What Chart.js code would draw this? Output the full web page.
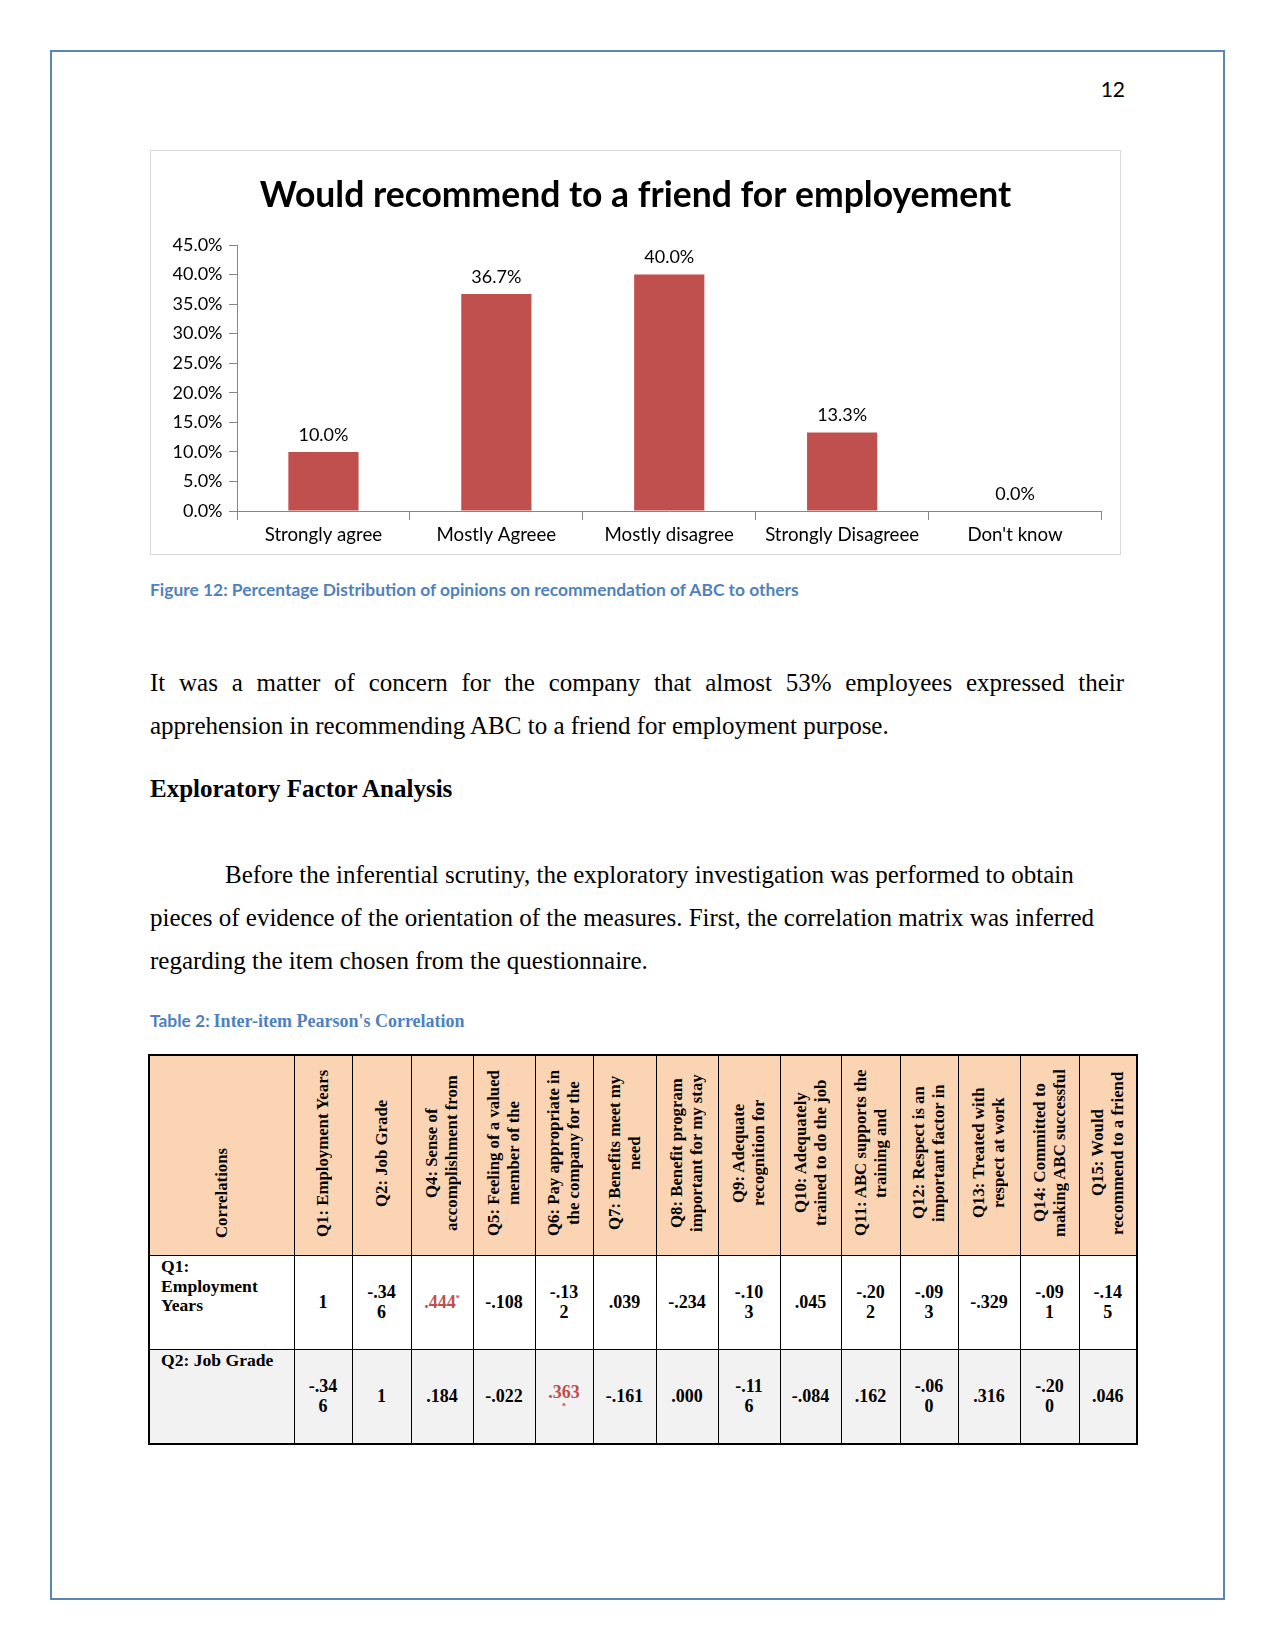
<!DOCTYPE html>
<html>
<head>
<meta charset="utf-8">
<script src="https://cdn.jsdelivr.net/npm/chart.js@4.4.0/dist/chart.umd.min.js"></script>
<style>
  html, body { margin: 0; padding: 0; background: #fff; }
  #page { position: relative; width: 1275px; height: 1650px; overflow: hidden; color: #000; }
  #frame { position: absolute; left: 50px; top: 50px; width: 1171px; height: 1546px; border: 2px solid #5a85b6; }
  #pageNum { position: absolute; right: 150px; top: 77px; font: 21px Lato, sans-serif; line-height: 24px; }
  #chartBox { position: absolute; left: 150px; top: 150px; width: 969px; height: 403px; border: 1px solid #d9d9d9; }
  #chartWrap { position: relative; width: 969px; height: 403px; }
  .caption { position: absolute; left: 150px; font-weight: bold; color: #4f81bd; line-height: 20px; white-space: nowrap; }
  .cal { font-family: Lato, sans-serif; font-size: 17.4px; }
  .cam { font-family: "Liberation Serif", serif; font-size: 18px; }
  .line { position: absolute; left: 150px; width: 974px; font: 25px "Liberation Serif", serif; line-height: 43px; white-space: nowrap; }
  .justify { text-align: justify; text-align-last: justify; white-space: normal; }
  .bold { font-weight: bold; }
  #corrTable { position: absolute; left: 148px; top: 1054px; border-collapse: collapse; table-layout: fixed; width: 988px;
    font: bold 18px "Liberation Serif", serif; border: 2px solid #000; }
  #corrTable td { border: 1px solid #000; padding: 0; text-align: center; vertical-align: middle; line-height: 19.5px; overflow: hidden; }
  #corrTable tr.head td { background: #fbd4b4; height: 199px; font-size: 16.8px; }
  #corrTable tr.r1 td { background: #fff; height: 92px; }
  #corrTable tr.r2 td { background: #f2f2f2; height: 92px; }
  #corrTable td.rowHead { text-align: left; vertical-align: top; padding: 1px 0 0 11px; font-size: 17.6px; }
  .vt { display: inline-block; writing-mode: vertical-rl; transform: rotate(180deg); height: 188px; text-align: center; white-space: nowrap; line-height: 20px; }
  .vt.start { text-align: start; padding-top: 9px; height: 179px; }
  .sig { color: #c0504d; }
  .star { font-size: 8px; vertical-align: super; line-height: 0; }
  .starLine { font-size: 8px; line-height: 7px; }
</style>
</head>
<body>
<div id="page">
  <div id="frame"></div>
  <div id="pageNum">12</div>

  <div id="chartBox"><div id="chartWrap"><canvas id="recommendChart"></canvas></div></div>

  <div class="caption cal" style="top:580px;">Figure 12: Percentage Distribution of opinions on recommendation of ABC to others</div>

  <div class="line justify" style="top:661px;">It was a matter of concern for the company that almost 53% employees expressed their</div>
  <div class="line" style="top:704px;">apprehension in recommending ABC to a friend for employment purpose.</div>
  <div class="line bold" style="top:767px;">Exploratory Factor Analysis</div>
  <div class="line" style="top:853px; left:225px;">Before the inferential scrutiny, the exploratory investigation was performed to obtain</div>
  <div class="line" style="top:896px;">pieces of evidence of the orientation of the measures. First, the correlation matrix was inferred</div>
  <div class="line" style="top:939px;">regarding the item chosen from the questionnaire.</div>

  <div class="caption" style="top:1011px;"><span class="cal">Table 2:</span> <span class="cam">Inter-item Pearson's Correlation</span></div>

  <table id="corrTable"></table>
</div>

<script>
// chart data
const categories = ['Strongly agree', 'Mostly Agreee', 'Mostly disagree', 'Strongly Disagreee', "Don't know"];
const percentages = [10.0, 36.7, 40.0, 13.3, 0.0];
const yMin = 0;
const yMax = 45;
const yStep = 5;

// table data ('|' marks where the cell text wraps in the original)
const columnWidths = [145, 58, 59, 62, 62, 58, 63, 62, 62, 61, 59, 58, 62, 59, 58];
const columnHeaders = [
  ['Correlations'],
  ['Q1: Employment Years'],
  ['Q2: Job Grade'],
  ['Q4: Sense of', 'accomplishment from'],
  ['Q5: Feeling of a valued', 'member of the'],
  ['Q6: Pay appropriate in', 'the company for the'],
  ['Q7: Benefits meet my', 'need'],
  ['Q8: Benefit program', 'important for my stay'],
  ['Q9: Adequate', 'recognition for'],
  ['Q10: Adequately', 'trained to do the job'],
  ['Q11: ABC supports the', 'training and'],
  ['Q12: Respect is an', 'important factor in'],
  ['Q13: Treated with', 'respect at work'],
  ['Q14: Committed to', 'making ABC successful'],
  ['Q15: Would', 'recommend to a friend']
];
const rowHeaders = [['Q1:', 'Employment', 'Years'], ['Q2: Job Grade']];
const q1Values = ['1', '-.34|6', '.444', '-.108', '-.13|2', '.039', '-.234', '-.10|3', '.045', '-.20|2', '-.09|3', '-.329', '-.09|1', '-.14|5'];
const q2Values = ['-.34|6', '1', '.184', '-.022', '.363', '-.161', '.000', '-.11|6', '-.084', '.162', '-.06|0', '.316', '-.20|0', '.046'];
const q1Significant = [2];
const q2Significant = [4];

const buildTable = () => {
  const table = document.getElementById('corrTable');

  const colgroup = document.createElement('colgroup');
  columnWidths.forEach(w => {
    const col = document.createElement('col');
    col.style.width = w + 'px';
    colgroup.appendChild(col);
  });
  table.appendChild(colgroup);

  const headRow = table.insertRow();
  headRow.className = 'head';
  columnHeaders.forEach((lines, i) => {
    const cell = headRow.insertCell();
    const div = document.createElement('div');
    div.className = i === 0 ? 'vt start' : 'vt';
    div.innerHTML = lines.join('<br>');
    cell.appendChild(div);
  });

  const addValueRow = (className, header, values, significant, starBelow) => {
    const row = table.insertRow();
    row.className = className;
    const headCell = row.insertCell();
    headCell.className = 'rowHead';
    headCell.innerHTML = header.join('<br>');

    values.forEach((value, i) => {
      const cell = row.insertCell();
      const text = value.split('|').join('<br>');
      if (significant.includes(i)) {
        cell.innerHTML = starBelow
          ? `<div class="sig">${text}</div><div class="sig starLine">*</div>`
          : `<span class="sig">${text}<span class="star">*</span></span>`;
      } else {
        cell.innerHTML = text;
      }
    });
  };

  addValueRow('r1', rowHeaders[0], q1Values, q1Significant, false);
  addValueRow('r2', rowHeaders[1], q2Values, q2Significant, true);
}

// draws the value above each bar
const barValueLabels = {
  id: 'barValueLabels',
  afterDatasetsDraw(chart) {
    const ctx = chart.ctx;
    const meta = chart.getDatasetMeta(0);
    ctx.save();
    ctx.font = '18px Lato';
    ctx.fillStyle = '#000';
    ctx.textAlign = 'center';
    ctx.textBaseline = 'middle';
    meta.data.forEach((bar, i) => {
      ctx.fillText(percentages[i].toFixed(1) + '%', bar.x, bar.y - 17);
    });
    ctx.restore();
  }
};

const createChart = () => {
  const canvas = document.getElementById('recommendChart');

  const axisColor = '#868686';
  const sidePadding = 18.5; // same on both sides so the title stays centred on the box

  new Chart(canvas, {
    type: 'bar',
    data: {
      labels: categories,
      datasets: [{
        data: percentages,
        backgroundColor: '#c0504d',
        borderWidth: 0,
        barPercentage: 0.406,
        categoryPercentage: 1.0
      }]
    },
    options: {
      responsive: true,
      maintainAspectRatio: false,
      devicePixelRatio: 1,
      animation: false,
      layout: { padding: { left: sidePadding, right: sidePadding, top: 0, bottom: 0 } },
      plugins: {
        legend: { display: false },
        tooltip: { enabled: false },
        title: {
          display: true,
          text: 'Would recommend to a friend for employement',
          color: '#000',
          font: { family: 'Lato', size: 35.5, weight: 'bold' },
          padding: { top: 23.2, bottom: 28.2 }
        }
      },
      scales: {
        x: {
          grid: { drawOnChartArea: false, drawTicks: true, tickLength: 9, color: axisColor, offset: true },
          border: { color: axisColor, width: 1 },
          ticks: { color: '#000', font: { family: 'Lato', size: 18.7 }, padding: 3.5, maxRotation: 0, autoSkip: false },
          afterFit: (scale) => { scale.height = 43; }
        },
        y: {
          min: yMin,
          max: yMax,
          grid: { drawOnChartArea: false, tickLength: 8, color: axisColor },
          border: { color: axisColor, width: 1 },
          ticks: {
            stepSize: yStep,
            color: '#000',
            font: { family: 'Lato', size: 18 },
            padding: 6.5,
            callback: (value) => value.toFixed(1) + '%'
          },
          afterFit: (scale) => { scale.width = 86 - sidePadding; }
        }
      }
    },
    plugins: [barValueLabels]
  });
}

buildTable();
createChart();
</script>
</body>
</html>
